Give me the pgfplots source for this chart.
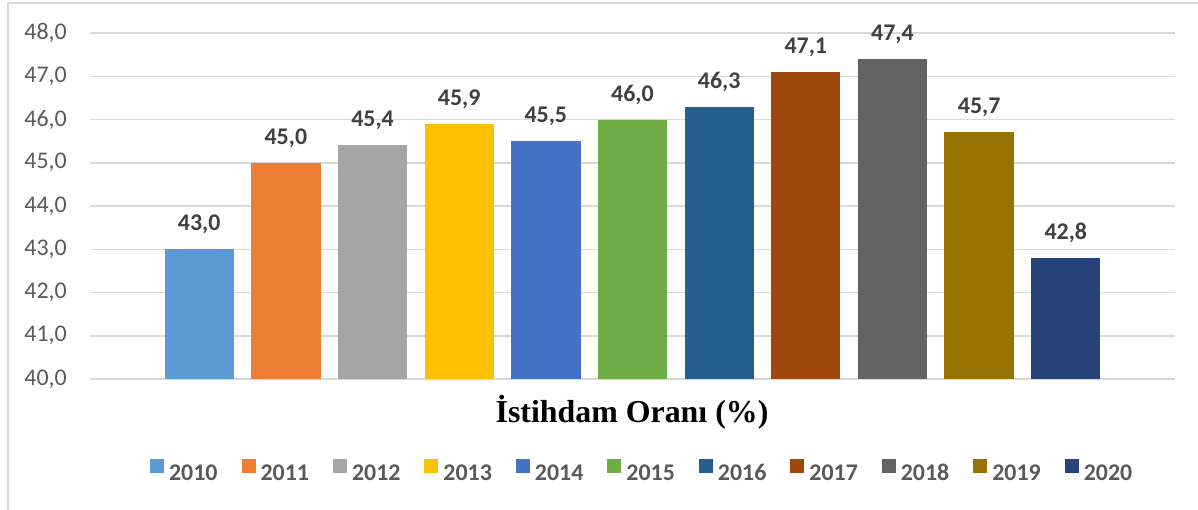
\documentclass[border=0pt]{standalone}
\usepackage{pgfplots}
\pgfplotsset{compat=1.18}
\usepackage{fontspec}
\setmainfont{Carlito}
\newfontfamily\timesfont{Liberation Serif}
\definecolor{gridc}{HTML}{D9D9D9}
\definecolor{tickc}{HTML}{595959}
\definecolor{labc}{HTML}{404040}
\definecolor{ca}{HTML}{5B9BD5}
\definecolor{cb}{HTML}{ED7D31}
\definecolor{cc}{HTML}{A5A5A5}
\definecolor{cd}{HTML}{FFC000}
\definecolor{ce}{HTML}{4472C4}
\definecolor{cf}{HTML}{70AD47}
\definecolor{cg}{HTML}{255E91}
\definecolor{ch}{HTML}{9E480E}
\definecolor{ci}{HTML}{636363}
\definecolor{cj}{HTML}{997300}
\definecolor{ck}{HTML}{264478}
\begin{document}
\begin{tikzpicture}
\path[use as bounding box] (0,0) rectangle (1198bp,510bp);
\draw[gridc, line width=1.5bp] (8bp,0) -- (8bp,507bp) -- (1198bp,507bp);
\begin{axis}[
  at={(90bp,131bp)}, anchor=south west, scale only axis,
  width=1085bp, height=346bp,
  xmin=-1.26, xmax=11.26, ymin=40, ymax=48,
  ytick={40,41,...,48}, xtick=\empty,
  axis line style={draw=none}, major tick length=0pt,
  ymajorgrids, grid style={gridc, line width=1.5bp},
  yticklabel style={anchor=east, inner sep=0pt, xshift=-23bp, text=tickc, font=\fontsize{24}{28}\selectfont},
  /pgf/number format/.cd, assume math mode=true, use comma, fixed, fixed zerofill, precision=1,
  /pgfplots/.cd,
  every axis plot/.append style={ybar, bar width=0.8, bar shift=0pt, draw=none},
  nodes near coords={\pgfmathprintnumber[use comma,fixed,fixed zerofill,precision=1,assume math mode=true]{\pgfplotspointmeta}},
  nodes near coords style={anchor=base, inner sep=0pt, yshift=18.5bp, text=labc, font=\fontsize{24}{28}\selectfont\bfseries},
  legend columns=11,
  legend image code/.code={\fill[#1] (0bp,0bp) rectangle (14bp,14bp);},
  legend style={at={(0.508,-0.265)}, anchor=center, draw=none, fill=none,
    font=\fontsize{24}{28}\selectfont\bfseries, text=tickc,
    nodes={inner sep=0pt},
    /tikz/every odd column/.append style={column sep=5bp},
    /tikz/every even column/.append style={column sep=24bp}},
]
\addplot[fill=ca] coordinates {(0,43.0)};
\addplot[fill=cb] coordinates {(1,45.0)};
\addplot[fill=cc] coordinates {(2,45.4)};
\addplot[fill=cd] coordinates {(3,45.9)};
\addplot[fill=ce] coordinates {(4,45.5)};
\addplot[fill=cf] coordinates {(5,46.0)};
\addplot[fill=cg] coordinates {(6,46.3)};
\addplot[fill=ch] coordinates {(7,47.1)};
\addplot[fill=ci] coordinates {(8,47.4)};
\addplot[fill=cj] coordinates {(9,45.7)};
\addplot[fill=ck] coordinates {(10,42.8)};
\legend{2010,2011,2012,2013,2014,2015,2016,2017,2018,2019,2020}
\end{axis}
\node[anchor=base, inner sep=0pt, font=\timesfont\bfseries\fontsize{32}{38}\selectfont] at (632bp,87bp) {İstihdam Oranı (\%)};
\end{tikzpicture}
\end{document}
